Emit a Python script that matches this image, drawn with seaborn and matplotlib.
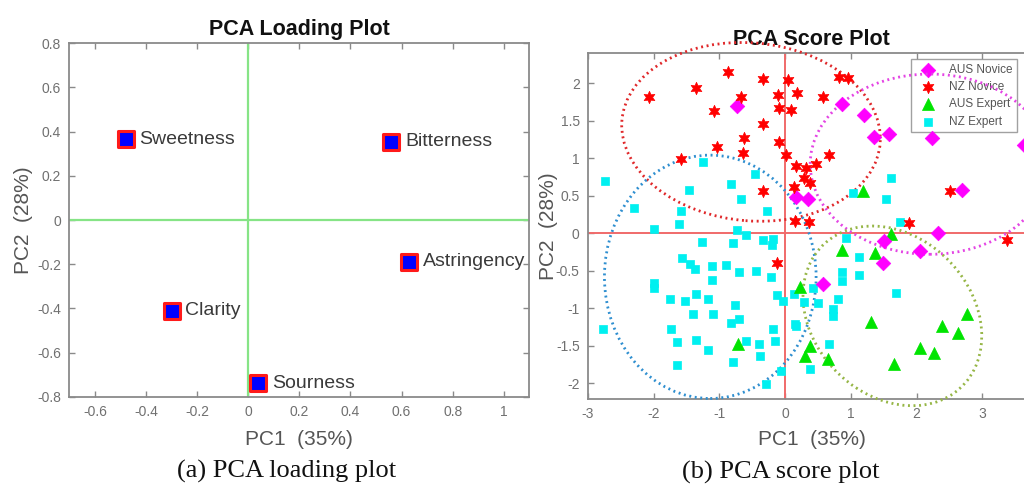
import numpy as np
import pandas as pd
import seaborn as sns
import matplotlib.pyplot as plt
from matplotlib.patches import Ellipse
from matplotlib.ticker import FuncFormatter, MultipleLocator

# Loading plot values (PC1, PC2 loadings per attribute)
attributes = ['Sweetness', 'Bitterness', 'Astringency', 'Clarity', 'Sourness']
load_pc1 = [-0.48, 0.56, 0.63, -0.30, 0.04]
load_pc2 = [0.365, 0.355, -0.19, -0.41, -0.74]

# Score plot values per panel group
aus_novice_x = [-0.73, 0.86, 1.20, 1.35, 1.58, 2.24, 3.63, 0.16, 0.34, 2.69,
                2.33, 1.51, 2.05, 1.49, 0.58]
aus_novice_y = [1.70, 1.72, 1.58, 1.28, 1.32, 1.27, 1.17, 0.48, 0.46, 0.57,
                0.01, -0.10, -0.23, -0.40, -0.67]

nz_novice_x = [-2.07, -1.36, -0.87, -0.34, 0.05, -0.68, -0.11, 0.18, 0.57, 0.82,
               0.95, -1.09, -0.10, 0.09, -0.34, -0.62, -0.10, -1.03, -0.64, -1.58,
               0.01, 0.66, 0.16, 0.31, 0.47, 0.28, 0.37, 0.14, -0.34, 0.15,
               0.36, -0.13, 1.89, 2.50, 3.38]
nz_novice_y = [1.82, 1.93, 2.15, 2.06, 2.04, 1.82, 1.84, 1.87, 1.81, 2.08,
               2.07, 1.63, 1.67, 1.64, 1.46, 1.27, 1.21, 1.15, 1.07, 0.99,
               1.04, 1.04, 0.89, 0.87, 0.92, 0.74, 0.67, 0.61, 0.56, 0.16,
               0.15, -0.40, 0.14, 0.56, -0.09]

aus_expert_x = [1.19, 1.61, 0.87, 1.36, 0.22, 1.31, 2.77, 2.39, 2.63, 2.05,
                2.26, 1.66, -0.72, 0.38, 0.30, 0.65]
aus_expert_y = [0.56, -0.01, -0.22, -0.26, -0.72, -1.18, -1.08, -1.23, -1.33, -1.53,
                -1.60, -1.74, -1.47, -1.50, -1.63, -1.67]

nz_expert_x = [-2.74, -1.25, -0.46, -1.47, -0.83, -0.68, -2.30, -1.58, -0.28, -2.00,
               -1.61, -0.73, -0.60, -1.27, -0.80, -0.34, -0.19, -0.20, -1.57, -1.45,
               -1.37, -1.12, -0.90, -0.70, -0.45, -1.12, -0.21, -2.00, -2.00, -1.76,
               -1.53, -1.35, -1.17, -0.12, -0.03, -0.76, -1.40, -1.10, -0.82, -0.70,
               -2.77, -1.74, -0.19, -1.65, -1.36, -1.17, -0.60, -0.40, -0.15, -0.39,
               -1.64, -0.80, -0.06, -0.29,
               0.14, 0.29, 0.15, 0.17, 0.37, 0.42, 0.50, 0.80, 0.72, 0.72,
               0.67, 0.87, 0.87, 1.13, 1.13, 1.68, 0.93, 1.74, 1.53, 1.61, 1.03]
nz_expert_y = [0.69, 0.95, 0.79, 0.57, 0.66, 0.45, 0.33, 0.30, 0.30, 0.06,
               0.12, 0.05, -0.02, -0.11, -0.13, -0.09, -0.07, -0.15, -0.33, -0.41,
               -0.47, -0.43, -0.42, -0.52, -0.50, -0.62, -0.58, -0.66, -0.73, -0.88,
               -0.90, -0.81, -0.88, -0.82, -0.90, -0.96, -1.07, -1.07, -1.20, -1.14,
               -1.28, -1.27, -1.28, -1.45, -1.42, -1.56, -1.43, -1.47, -1.44, -1.64,
               -1.75, -1.72, -1.83, -2.01,
               -0.81, -0.92, -1.21, -1.24, -1.81, -0.73, -0.93, -0.87, -1.01, -1.10,
               -1.48, -0.52, -0.63, -0.32, -0.55, -0.79, -0.06, 0.15, 0.46, 0.74, 0.53]

# group ellipses: centre x, centre y, width, height, angle
ell_centers = [(-0.52, 1.35), (-1.14, -0.58), (2.20, 0.92), (1.63, -1.10)]
ell_sizes = [(3.94, 2.37), (3.22, 3.24), (3.64, 2.40), (2.87, 2.21)]
ell_angles = [-4, 0, 0, -30]
ell_colors = ['#e0282a', '#2f8fd0', '#e444e4', '#96b646']

groups = ['AUS Novice', 'NZ Novice', 'AUS Expert', 'NZ Expert']

sns.set_theme(style='white')
plt.rcParams['font.family'] = ['Liberation Sans', 'DejaVu Sans']
plt.rcParams['axes.unicode_minus'] = False

fig = plt.figure(figsize=(10.24, 4.84), dpi=100)
ax1 = fig.add_axes([69.3 / 1024, 87.3 / 484, 460 / 1024, 353.4 / 484])
ax2 = fig.add_axes([588 / 1024, 85.5 / 484, 447 / 1024, 345.5 / 484])

fmt = FuncFormatter(lambda v, p: '%g' % round(v, 2))


def style_axes(ax):
    for sp in ax.spines.values():
        sp.set_color('#8a8a8a')
        sp.set_linewidth(1.3)
    ax.tick_params(direction='in', length=4, width=1, colors='#8a8a8a',
                   labelcolor='#707070', labelsize=10, top=True, right=True,
                   bottom=True, left=True, pad=6)
    ax.xaxis.set_major_formatter(fmt)
    ax.yaxis.set_major_formatter(fmt)
    ax.grid(False)


# ---- (a) loading plot
loading = pd.DataFrame({'attr': attributes, 'PC1': load_pc1, 'PC2': load_pc2})
ax1.axhline(0, color='#86e486', lw=1.6, zorder=1)
ax1.axvline(0, color='#86e486', lw=1.6, zorder=1)
sns.scatterplot(data=loading, x='PC1', y='PC2', marker='s', s=130, color='#0000ff',
                edgecolor='#ff1a1a', linewidth=2.2, zorder=3, ax=ax1)
for _, row in loading.iterrows():
    ax1.annotate(row['attr'], (row['PC1'], row['PC2']), xytext=(10, 0),
                 textcoords='offset points', ha='left', va='center',
                 fontsize=14, color='#3a3a3a')
ax1.set_xlim(-0.7, 1.1)
ax1.set_ylim(-0.8, 0.8)
ax1.xaxis.set_major_locator(MultipleLocator(0.2))
ax1.yaxis.set_major_locator(MultipleLocator(0.2))
style_axes(ax1)
ax1.set_title('PCA Loading Plot', fontsize=15.5, fontweight='bold', color='#111111', pad=6)
ax1.set_xlabel('PC1  (35%)', fontsize=15, color='#555555')
ax1.set_ylabel('PC2  (28%)', fontsize=15, color='#555555')
ax1.xaxis.set_label_coords(0.5, -0.093)
ax1.yaxis.set_label_coords(-0.079, 0.5)

# ---- (b) score plot
scores = pd.concat([
    pd.DataFrame({'PC1': aus_novice_x, 'PC2': aus_novice_y, 'group': groups[0]}),
    pd.DataFrame({'PC1': nz_novice_x, 'PC2': nz_novice_y, 'group': groups[1]}),
    pd.DataFrame({'PC1': aus_expert_x, 'PC2': aus_expert_y, 'group': groups[2]}),
    pd.DataFrame({'PC1': nz_expert_x, 'PC2': nz_expert_y, 'group': groups[3]}),
], ignore_index=True)

markers = {'AUS Novice': 'D', 'NZ Novice': (6, 1, 0), 'AUS Expert': '^', 'NZ Expert': 's'}
colors = {'AUS Novice': '#ff00ff', 'NZ Novice': '#ff0000', 'AUS Expert': '#00e400',
          'NZ Expert': '#00f0f0'}
sizes = {'AUS Novice': 55, 'NZ Novice': 80, 'AUS Expert': 75, 'NZ Expert': 32}
order = ['NZ Expert', 'AUS Expert', 'AUS Novice', 'NZ Novice']

ax2.axhline(0, color='#f06a6a', lw=1.4, zorder=1)
ax2.axvline(0, color='#f06a6a', lw=1.4, zorder=1)
handles = {}
for g in order:
    sub = scores[scores['group'] == g]
    sns.scatterplot(data=sub, x='PC1', y='PC2', marker=markers[g], s=sizes[g],
                    color=colors[g], edgecolor=colors[g], linewidth=0.5,
                    label=g, zorder=7, ax=ax2)

for (cx, cy), (w, h), a, c in zip(ell_centers, ell_sizes, ell_angles, ell_colors):
    ax2.add_patch(Ellipse((cx, cy), w, h, angle=a, fill=False, edgecolor=c,
                          lw=2.0, linestyle=(0, (0.7, 1.3)), clip_on=False, zorder=6))

ax2.set_xlim(-3, 3.8)
ax2.set_ylim(-2.2, 2.4)
ax2.xaxis.set_major_locator(MultipleLocator(1))
ax2.yaxis.set_major_locator(MultipleLocator(0.5))
style_axes(ax2)
ax2.set_title('PCA Score Plot', fontsize=15.5, fontweight='bold', color='#111111', pad=6)
ax2.set_xlabel('PC1  (35%)', fontsize=15, color='#555555')
ax2.set_ylabel('PC2  (28%)', fontsize=15, color='#555555')
ax2.xaxis.set_label_coords(0.5, -0.092)
ax2.yaxis.set_label_coords(-0.068, 0.5)

h, l = ax2.get_legend_handles_labels()
lookup = dict(zip(l, h))
leg = ax2.legend([lookup[g] for g in groups], groups, loc='upper right',
                 bbox_to_anchor=(1017 / 1024, 1 - 59 / 484),
                 bbox_transform=fig.transFigure, fontsize=8.5, frameon=True,
                 fancybox=False, edgecolor='#8a8a8a', borderpad=0.4,
                 labelspacing=0.45, handletextpad=0.8, borderaxespad=0)
leg.get_frame().set_linewidth(1.0)
for t in leg.get_texts():
    t.set_color('#555555')
leg.set_zorder(5)

# captions under each panel
fig.text(287 / 1024, 1 - 471 / 484, '(a) PCA loading plot', ha='center', va='center',
         fontsize=19, family='Liberation Serif', color='#111111')
fig.text(781 / 1024, 1 - 472 / 484, '(b) PCA score plot', ha='center', va='center',
         fontsize=19, family='Liberation Serif', color='#111111')

fig.savefig('out.png', dpi=100)
